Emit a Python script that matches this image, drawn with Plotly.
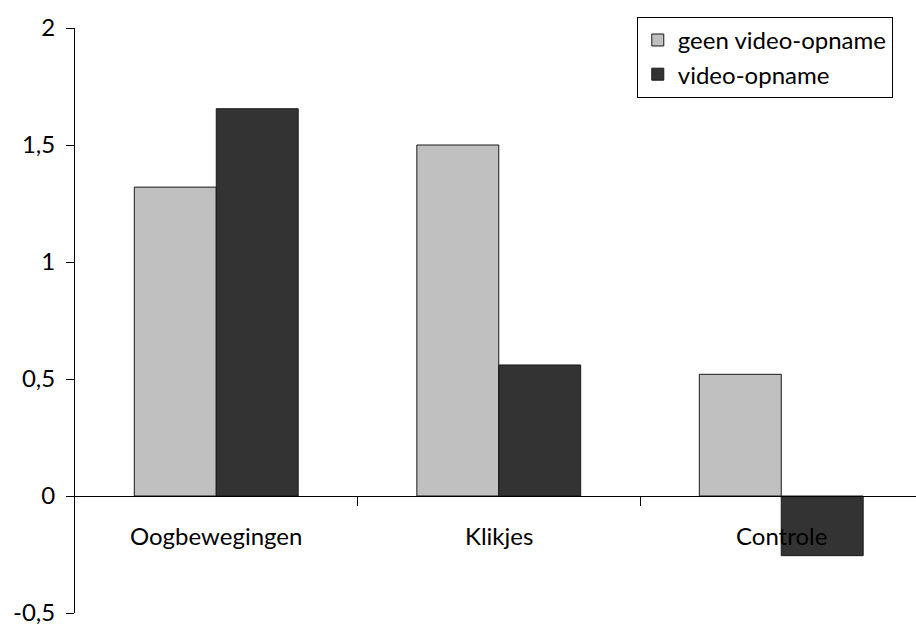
import plotly.graph_objects as go

categories = ["Oogbewegingen", "Klikjes", "Controle"]
geen_video = [1.32, 1.50, 0.52]
video = [1.655, 0.56, -0.255]
y_ticks = [-0.5, 0, 0.5, 1, 1.5, 2]
y_tick_text = ["-0,5", "0", "0,5", "1", "1,5", "2"]

FONT = "Lato"
FSIZE = 24
x_pos = list(range(len(categories)))

fig = go.Figure()
fig.add_trace(go.Bar(
    x=x_pos, y=geen_video, name="geen video-opname",
    marker=dict(color="#C0C0C0", line=dict(color="#1a1a1a", width=1)),
    legendgroup="a",
))
fig.add_trace(go.Bar(
    x=x_pos, y=video, name="video-opname",
    marker=dict(color="#333333", line=dict(color="#1a1a1a", width=1)),
    legendgroup="b",
))

# category labels below the zero line, drawn on top of the bars
for i, c in enumerate(categories):
    fig.add_annotation(x=i, y=0, xref="x", yref="y", text=c, showarrow=False,
                       yanchor="top", yshift=-23,
                       font=dict(family=FONT, size=FSIZE, color="#000"))

fig.update_layout(
    width=916, height=628,
    margin=dict(l=75, r=0, t=28, b=15),
    paper_bgcolor="white", plot_bgcolor="white",
    barmode="group", bargap=0.42, bargroupgap=0,
    font=dict(family=FONT, size=FSIZE, color="#000"),
    showlegend=True,
    legend=dict(
        x=0.668, y=1.019, xanchor="left", yanchor="top",
        bordercolor="#000", borderwidth=1, bgcolor="white",
        font=dict(family=FONT, size=FSIZE, color="#000"),
        traceorder="grouped", tracegroupgap=0, itemwidth=30,
    ),
    xaxis=dict(
        range=[-0.5, -0.5 + 841 / 282.5],
        anchor="free", position=0.2,
        showline=True, linecolor="#000", linewidth=1,
        tickvals=[0.5, 1.5, 2.5], ticktext=["", "", ""],
        ticks="outside", ticklen=9, tickcolor="#000",
        showgrid=False, zeroline=False,
    ),
    yaxis=dict(
        range=[-0.5, 2],
        tickvals=y_ticks, ticktext=y_tick_text,
        showline=True, linecolor="#000", linewidth=1,
        ticks="outside", ticklen=8, tickcolor="#000",
        ticklabelstandoff=6,
        showgrid=False, zeroline=False,
        tickfont=dict(family=FONT, size=FSIZE, color="#000"),
    ),
)

fig.write_html("out.html")
